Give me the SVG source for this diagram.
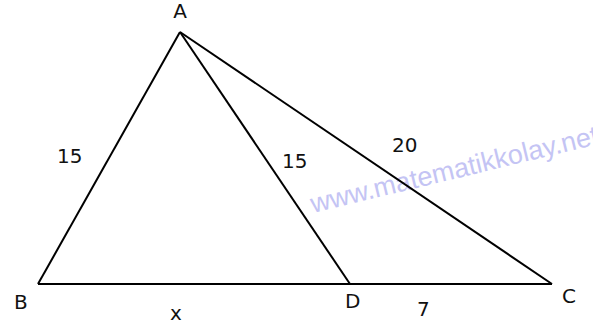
<svg xmlns="http://www.w3.org/2000/svg" width="593" height="333" viewBox="0 0 593 333">
<style>
.lbl{font-family:"DejaVu Sans",Verdana,sans-serif;font-size:20px;fill:#111}
.edge{stroke:#000;stroke-width:2;fill:none;stroke-linejoin:miter}
.wm{font-family:"Liberation Sans",Arial,sans-serif;font-size:27px;fill:#c4c4f4}
</style>
<rect width="593" height="333" fill="#fff"/>
<text class="wm" transform="translate(313,213) rotate(-13.6)">www.matematikkolay.net</text>
<g id="connectors">
<line class="edge" x1="180" y1="32" x2="38" y2="284"/>
<line class="edge" x1="38" y1="284" x2="552" y2="284"/>
<line class="edge" x1="180" y1="32" x2="552" y2="284"/>
<line class="edge" x1="180" y1="32" x2="350" y2="284"/>
</g>
<g id="A"><text class="lbl" x="180" y="18" text-anchor="middle">A</text></g>
<g id="B"><text class="lbl" x="14" y="309">B</text></g>
<g id="C"><text class="lbl" x="562" y="303">C</text></g>
<g id="D"><text class="lbl" x="345" y="308">D</text></g>
<g id="labels">
<text class="lbl" x="57" y="163">15</text>
<text class="lbl" x="282" y="168">15</text>
<text class="lbl" x="392" y="152">20</text>
<text class="lbl" x="170" y="320">x</text>
<text class="lbl" x="417" y="316">7</text>
</g>
</svg>
